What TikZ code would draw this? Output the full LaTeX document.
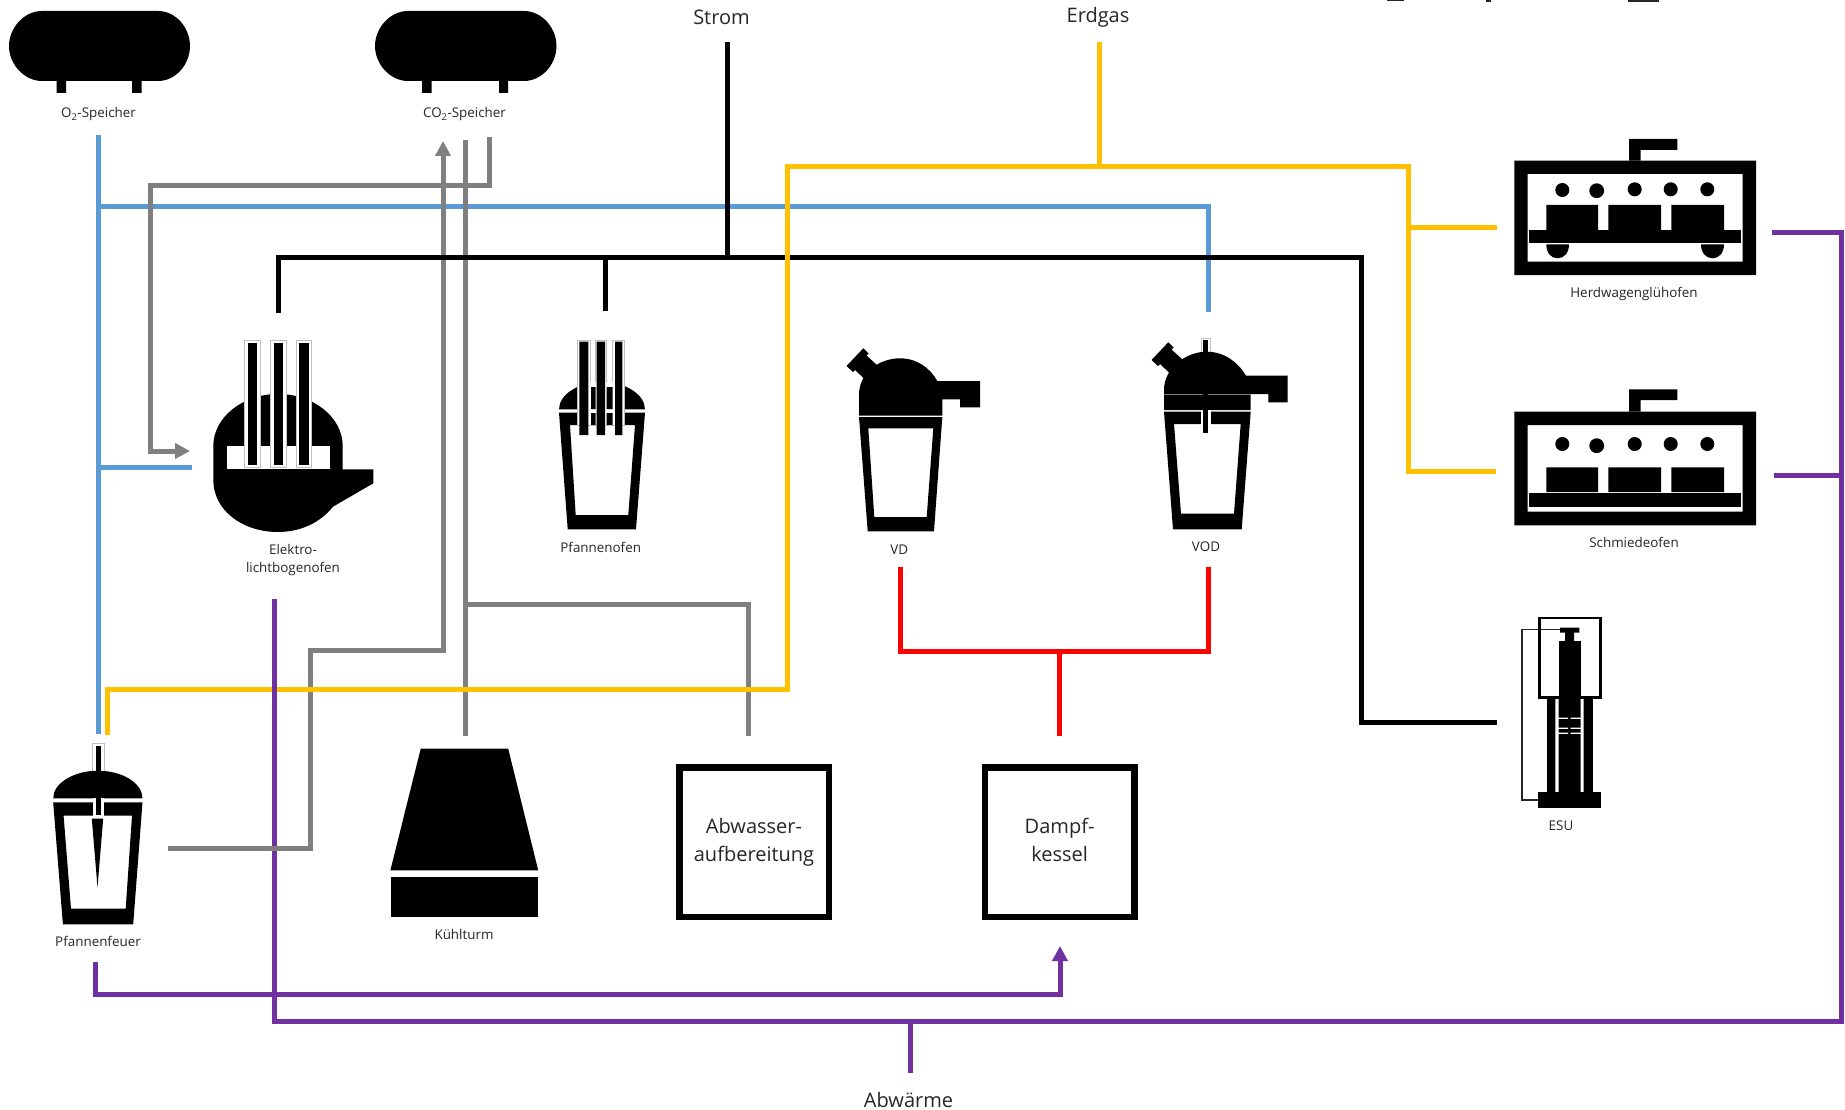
\documentclass[tikz,border=0pt]{standalone}
\usepackage{fontspec}
\setmainfont{Open Sans}
\usetikzlibrary{arrows.meta}
\definecolor{cblue}{HTML}{5B9BD5}
\definecolor{cgrey}{HTML}{7F7F7F}
\definecolor{cyell}{HTML}{FFC000}
\definecolor{cpurp}{HTML}{7030A0}
\definecolor{cred}{HTML}{FF0000}
\definecolor{ctext}{HTML}{262626}
\definecolor{cedge}{HTML}{BFBFBF}
\tikzset{
  x=1pt,y=-1pt,
  pipe/.style={line width=5pt,line join=miter,line cap=butt},
  bluepipe/.style={pipe,draw=cblue},
  greypipe/.style={pipe,draw=cgrey},
  yellpipe/.style={pipe,draw=cyell},
  purppipe/.style={pipe,draw=cpurp},
  redpipe/.style={pipe,draw=cred},
  blackpipe/.style={pipe,draw=black},
  tip/.style={-{Triangle[length=15pt,width=15pt]}},
  sheath/.style={fill=white,draw=cedge,line width=0.8pt},
  small label/.style={font=\fontsize{13.4}{18}\selectfont,text=ctext,inner sep=0pt,align=center},
  big label/.style={font=\fontsize{20}{27}\selectfont,text=ctext,inner sep=0pt,align=center},
  unit box/.style={draw=black,line width=6.5pt,fill=white,minimum width=149.5pt,minimum height=149.5pt,inner sep=0pt,align=center,font=\fontsize{20}{27.5}\selectfont,text=ctext},
}
\begin{document}
\begin{tikzpicture}
\useasboundingbox (0,0) rectangle (1845,1110);
\fill[white] (0,0) rectangle (1845,1110);
% clipped remains at the top edge
\fill[ctext] (1628,0) rectangle (1659,1.8);
\fill[ctext] (1387,0) rectangle (1404,1.2);
\fill[ctext] (1486,0) rectangle (1491,1.8);

% ---- tanks
\fill (9,46) .. controls (9,28) and (24,11) .. (42,11) -- (158,11) .. controls (176,11) and (190,28) .. (190,46) .. controls (190,64) and (176,81) .. (158,81) -- (42,81) .. controls (24,81) and (9,64) .. (9,46) -- cycle;
\fill (56.5,80) rectangle (66,93) (132,80) rectangle (141.5,93);
\fill (375,46) .. controls (375,28) and (390,11) .. (408,11) -- (524,11) .. controls (542,11) and (556.5,28) .. (556.5,46) .. controls (556.5,64) and (542,81) .. (524,81) -- (408,81) .. controls (390,81) and (375,64) .. (375,46) -- cycle;
\fill (422,80) rectangle (431.6,93) (499,80) rectangle (508,93);
\node[small label] (o2label) at (98.5,114.5) {O\textsubscript{2}-Speicher};
\node[small label] (co2label) at (464.5,114.5) {CO\textsubscript{2}-Speicher};

% ---- Elektrolichtbogenofen
\fill (213.3,446) .. controls (213.3,417.4) and (242.6,394) .. (278,394) .. controls (313.7,394) and (342.7,417.4) .. (342.7,446) -- (342.7,469.3) -- (373.3,469.3) -- (373.3,483.3) -- (333,506.7) .. controls (320,523) and (300,532) .. (278,532) .. controls (242,532) and (213.3,510) .. (213.3,480) -- cycle;
\fill[white] (227.3,446) rectangle (330,469.3);
\foreach \a/\b/\c/\d in {244.7/260.3/248/257.3,270.7/286/273.7/283,296.7/311.7/299.3/309}{
  \draw[sheath] (\a,340) rectangle (\b,467);
  \fill (\c,343) rectangle (\d,465.3);
}
\node[small label] (elolabel) at (293,560) {Elektro-\\lichtbogenofen};

% ---- Pfannenofen
\fill (559,409.3) .. controls (559,394) and (580,381.7) .. (602,381.7) .. controls (624,381.7) and (645,394) .. (645,409.3) -- cycle;
\fill[even odd rule] (559,412.7) -- (645,412.7) -- (636,529.3) -- (567.7,529.3) -- cycle (570,425) -- (635,425) -- (628.3,515) -- (575.7,515) -- cycle;
\draw[sheath] (577.3,340) rectangle (590.7,425);
\draw[sheath] (595.7,340) rectangle (606.3,425);
\draw[sheath] (612.7,340) rectangle (624,425);
\fill[white] (590,382) rectangle (596.5,425);
\fill[white] (606,382) rectangle (613.5,425);
\fill (591,387) rectangle (595.5,409) (591,413) rectangle (595.5,425);
\fill (606.5,387) rectangle (612.5,409) (606.5,413) rectangle (612.5,425);
\fill (579.3,341.7) rectangle (588.3,435) (596.7,341.7) rectangle (605,435) (615,341.7) rectangle (622.3,435);
\node[small label] (lflabel) at (600.7,547.3) {Pfannenofen};

% ---- VD
\fill (859,415.7) -- (859,395) .. controls (859,372) and (880,358.3) .. (900,358.3) .. controls (917,358.3) and (930,368) .. (937.3,381) -- (980,381) -- (980,407.3) -- (960,407.3) -- (960,399.3) -- (942.3,399.3) -- (942.3,415.7) -- cycle;
\fill (863.3,348.3) -- (868.5,353.5) -- (866.5,355.5) -- (878,366) -- (864.5,379) -- (855,370) -- (853,372) -- (846.5,366) -- cycle;
\fill[even odd rule] (859,417) -- (942.3,417) -- (934,531.3) -- (867.7,531.3) -- cycle (868.3,428.3) -- (933.3,428.3) -- (926.7,517) -- (874.3,517) -- cycle;
\node[small label] (vdlabel) at (899.3,550) {VD};

% ---- VOD
\draw[sheath] (1201,338.3) rectangle (1210.7,360);
\fill (1164,410) -- (1164,390) .. controls (1164,368) and (1186,351.7) .. (1206.7,351.7) .. controls (1224,351.7) and (1238,362) .. (1246,375.7) -- (1287.7,375.7) -- (1287.7,402.3) -- (1268.3,402.3) -- (1268.3,394) -- (1250.7,394) -- (1250.7,410) -- cycle;
\draw[cgrey,line width=0.7pt] (1164,394) -- (1250.7,394);
\fill (1168.3,342.3) -- (1173.5,347.5) -- (1171.5,349.5) -- (1183,360) -- (1169.5,373) -- (1160,364) -- (1158,366) -- (1151.5,360) -- cycle;
\fill[even odd rule] (1164,411.7) -- (1250.7,411.7) -- (1241.7,529.3) -- (1173,529.3) -- cycle (1174,424) -- (1240.7,424) -- (1234,513.7) -- (1181,513.7) -- cycle;
\fill[white] (1201,410) rectangle (1210.7,425);
\fill (1203,340) rectangle (1208.3,433.3);
\node[small label] (vodlabel) at (1206,546.7) {VOD};

% ---- Pfannenfeuer
\draw[sheath] (92.5,743.3) rectangle (104.3,772);
\fill (53.2,798.3) .. controls (53.2,783) and (74,770.7) .. (98,770.7) .. controls (122,770.7) and (142.5,783) .. (142.5,798.3) -- cycle;
\fill[even odd rule] (53.2,802.3) -- (142.5,802.3) -- (133.2,924.3) -- (62.9,924.3) -- cycle (63.6,815.7) -- (132,815.7) -- (125.7,908.7) -- (71,908.7) -- cycle;
\fill[white] (92.5,798.3) rectangle (104.3,817);
\fill (95.7,746) rectangle (101.4,815);
\fill (91.8,818.7) -- (103.2,818.7) -- (97.5,887.3) -- cycle;
\node[small label] (pflabel) at (98,941) {Pfannenfeuer};

% ---- Kuehlturm
\fill (420.7,748.7) -- (508.2,748.7) -- (538.2,870.3) -- (390.4,870.3) -- cycle;
\fill (391.4,876.7) rectangle (538.2,917);
\node[small label] (ktlabel) at (464,934) {Kühlturm};

% ---- Herdwagengluehofen
\fill[even odd rule] (1514.3,160.7) rectangle (1756,275) (1527.7,174) rectangle (1742.7,261.7);
\fill (1629,160.7) -- (1629,139) -- (1677.3,139) -- (1677.3,150) -- (1640.7,150) -- (1640.7,160.7) -- cycle;
\foreach \x/\y/\r in {1562.3/190/7,1596.7/190.7/7.4,1634.7/189.3/7,1670.7/189.3/7,1707.3/189.3/7}{
  \fill (\x,\y) circle[radius=\r pt];
}
\fill (1546.3,205) rectangle (1598,230) (1608.3,205) rectangle (1661,230) (1671.3,205) rectangle (1724,230);
\fill (1528.7,229.7) rectangle (1740.7,243.3);
\fill (1546.3,244.3) .. controls (1546.3,253) and (1551,258.3) .. (1557.6,258.3) .. controls (1564,258.3) and (1569,253) .. (1569,244.3) -- cycle;
\fill (1701,244.3) .. controls (1701,253) and (1706,258.3) .. (1712.5,258.3) .. controls (1719,258.3) and (1724,253) .. (1724,244.3) -- cycle;
\node[small label] (hwlabel) at (1634,294) {Herdwagenglühofen};

% ---- Schmiedeofen
\fill[even odd rule] (1514.3,411.7) rectangle (1756,525.3) (1527.7,425) rectangle (1742.7,511.7);
\fill (1629,411.7) -- (1629,389.3) -- (1677.3,389.3) -- (1677.3,400) -- (1640.7,400) -- (1640.7,411.7) -- cycle;
\foreach \x/\y/\r in {1562.3/444/7,1596.7/445.7/7.4,1634.7/444/7,1670.7/444/7,1707.3/444/7}{
  \fill (\x,\y) circle[radius=\r pt];
}
\fill (1546.3,467.3) rectangle (1598,492) (1608.3,467.3) rectangle (1661,492) (1671.3,467.3) rectangle (1724,492);
\fill (1528.7,493.3) rectangle (1740.7,506.7);
\node[small label] (solabel) at (1634,542.5) {Schmiedeofen};

% ---- ESU
\draw[ctext,line width=1.5pt,line join=miter] (1560,629.3) -- (1522,629.3) -- (1522,800) -- (1540,800);
\draw[black,line width=2.8pt] (1539.6,618) rectangle (1600.4,697.5);
\fill (1560,627.7) rectangle (1579.3,632.7) (1565,632.7) rectangle (1574,641);
\fill (1546.7,698) rectangle (1592.7,792);
\fill (1558.7,641) rectangle (1580.7,792);
\fill[white] (1555.3,699) rectangle (1558.7,792) (1580.7,699) rectangle (1583.7,792);
\foreach \y in {718.3,728.3,733.3}{
  \fill[white] (1557.7,\y-0.6) rectangle (1568,\y+0.6) (1570.7,\y-0.6) rectangle (1581,\y+0.6);
}
\fill (1538.3,792) rectangle (1601,808.3);
\node[small label] (esulabel) at (1561,826) {ESU};

% ---- process boxes
\node[unit box] (abw) at (754,842) {\raisebox{-2pt}{\strut Abwasser-}\\\raisebox{-2pt}{\strut aufbereitung}};
\node[unit box] (dampf) at (1059.6,842) {\raisebox{-2pt}{\strut Dampf-}\\\raisebox{-2pt}{\strut kessel}};

% ---- outer labels
\node[big label] (strom) at (721.5,17.5) {Strom};
\node[big label] (erdgas) at (1098,17) {Erdgas};
\node[big label] (abwaerme) at (908.5,1099.5) {Abwärme};

% ---- connector end points
\coordinate (o2src) at (98,135);
\coordinate (pfblue) at (98,734);
\coordinate (eloblue) at (192,467);
\coordinate (vodblue) at (1208.5,312);
\coordinate (co2out) at (489.5,137);
\coordinate (eloin) at (190,451);
\coordinate (co2in) at (443,141);
\coordinate (pfout) at (167.5,848);
\coordinate (co2mid) at (465,140);
\coordinate (ktin) at (465,736);
\coordinate (abwin) at (748.5,736);
\coordinate (stromin) at (727,42);
\coordinate (eloel) at (278.6,313);
\coordinate (lfel) at (605.5,311);
\coordinate (esuin) at (1497,722.6);
\coordinate (erdgasin) at (1099,42);
\coordinate (pfgas) at (107,735);
\coordinate (hwgas) at (1497,227.5);
\coordinate (sogas) at (1496,471.5);
\coordinate (hwout) at (1772,232.7);
\coordinate (soout) at (1774,475);
\coordinate (eloout) at (274.5,599);
\coordinate (awout) at (910,1073);
\coordinate (pfwaste) at (95.5,962);
\coordinate (dampfin) at (1060,946);
\coordinate (vdout) at (900.5,567);
\coordinate (vodout) at (1208,567);
\coordinate (dampfred) at (1059.5,736);

% ---- connectors (layered as in the reference)
\draw[bluepipe] (o2src) -- (pfblue);
\draw[bluepipe] (98,206.5) -- (1208.5,206.5) -- (vodblue);
\draw[bluepipe] (98,467) -- (eloblue);
\draw[purppipe] (hwout) -- (1841.7,232.7) -- (1841.7,1021.5) -- (274.5,1021.5) -- (eloout);
\draw[purppipe] (soout) -- (1841.7,475);
\draw[purppipe] (awout) -- (910,1021.5);
\draw[purppipe,tip] (pfwaste) -- (95.5,994.5) -- (1060,994.5) -- (dampfin);
\draw[greypipe,tip] (co2out) -- (489.5,185.5) -- (150,185.5) -- (150,451) -- (eloin);
\draw[greypipe,tip] (pfout) -- (310.5,848) -- (310.5,650) -- (443,650) -- (co2in);
\draw[greypipe] (co2mid) -- (ktin);
\draw[greypipe] (465,604) -- (748.5,604) -- (abwin);
\draw[blackpipe] (stromin) -- (727,258);
\draw[blackpipe] (eloel) -- (278.6,258) -- (1361.6,258) -- (1361.6,722.6) -- (esuin);
\draw[blackpipe] (605.5,258) -- (lfel);
\draw[redpipe] (vdout) -- (900.5,651) -- (1208,651) -- (vodout);
\draw[redpipe] (1059.5,651) -- (dampfred);
\draw[yellpipe] (erdgasin) -- (1099,166.5);
\draw[yellpipe] (pfgas) -- (107,689.5) -- (787,689.5) -- (787,166.5) -- (1408.5,166.5) -- (1408.5,471.5) -- (sogas);
\draw[yellpipe] (1408.5,227.5) -- (hwgas);
\draw[purppipe] (274.5,686.5) -- (274.5,692.5);
\end{tikzpicture}
\end{document}
